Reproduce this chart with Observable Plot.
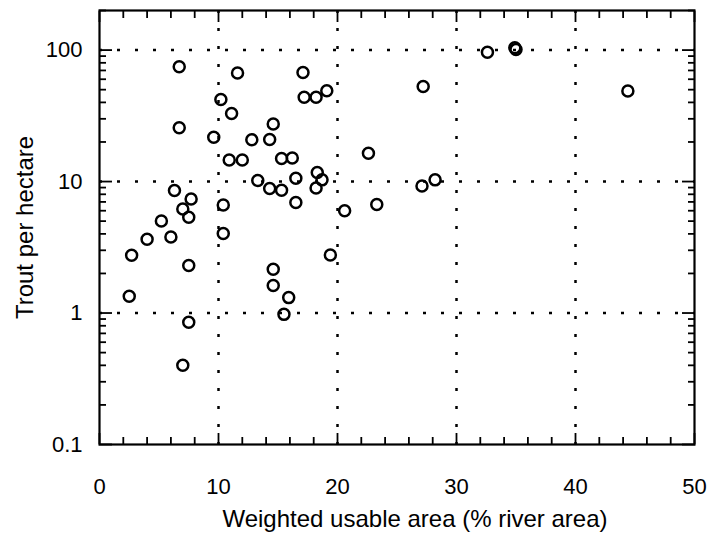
<!DOCTYPE html>
<html>
<head>
<meta charset="utf-8">
<script src="https://cdn.jsdelivr.net/npm/d3@7"></script>
<script src="https://cdn.jsdelivr.net/npm/@observablehq/plot@0.6"></script>
<style>
  html, body { margin: 0; padding: 0; background: #fff; }
  #chart svg { display: block; }
</style>
</head>
<body>
<div id="chart"></div>
<script>
// Weighted usable area (% river area)
const area = [6.7, 11.6, 17.1, 27.2, 32.6, 34.9, 35.0, 44.4,
  10.2, 11.1, 17.2, 18.2, 19.1,
  6.7, 9.6, 12.8, 14.3, 14.6,
  10.9, 12.0, 15.3, 16.2, 22.6,
  13.3, 14.3, 15.3, 16.5, 16.5,
  18.3, 18.7, 18.2, 20.6, 23.3,
  27.1, 28.2,
  6.3, 7.7, 7.0, 7.5, 5.2,
  10.4, 10.4, 4.0, 6.0, 2.7,
  7.5, 19.4, 14.6, 14.6, 15.9,
  2.5, 15.5, 7.5, 7.0];
// Trout per hectare
const trout = [74.7, 67.0, 67.6, 52.9, 96.3, 104, 101, 48.9,
  42.1, 32.9, 43.8, 43.8, 49.1,
  25.7, 21.7, 20.8, 20.9, 27.4,
  14.6, 14.6, 15.0, 15.1, 16.4,
  10.2, 8.87, 8.58, 10.6, 6.93,
  11.7, 10.3, 8.92, 6.0, 6.69,
  9.25, 10.3,
  8.56, 7.38, 6.19, 5.36, 5.02,
  6.64, 4.03, 3.64, 3.78, 2.75,
  2.30, 2.76, 2.15, 1.62, 1.31,
  1.34, 0.977, 0.85, 0.40];

const xTicks = [0, 10, 20, 30, 40, 50];
const xMinorTicks = [2, 4, 6, 8, 12, 14, 16, 18, 22, 24, 26, 28, 32, 34, 36, 38, 42, 44, 46, 48];
const xGrid = [10, 20, 30, 40];
const yTicks = [0.1, 1, 10, 100];
const yMinorTicks = [0.2, 0.3, 0.4, 0.5, 0.6, 0.7, 0.8, 0.9,
  2, 3, 4, 5, 6, 7, 8, 9,
  20, 30, 40, 50, 60, 70, 80, 90, 200];
const yGrid = [1, 10, 100];
const xTitle = "Weighted usable area (% river area)";
const yTitle = "Trout per hectare";

const data = area.map((x, i) => ({x, y: trout[i]}));

const dotted = {stroke: "black", strokeWidth: 2.5, strokeDasharray: "3,15"};
const tickStyle = {stroke: "black", strokeWidth: 1.8, label: null, fill: "none"};

const chart = Plot.plot({
  width: 707,
  height: 534,
  marginLeft: 99,
  marginRight: 13,
  marginTop: 10,
  marginBottom: 90,
  style: {fontFamily: "'Liberation Sans', Arial, Helvetica, sans-serif", fontSize: "22px", background: "white", color: "black"},
  x: {domain: [0, 50], label: null},
  y: {type: "log", domain: [0.1, 200], label: null},
  marks: [
    Plot.ruleX(xGrid, dotted),
    Plot.ruleY(yGrid, dotted),
    // inward ticks, all four sides
    Plot.axisX(xMinorTicks, {anchor: "bottom", tickSize: -7, ...tickStyle}),
    Plot.axisX(xMinorTicks, {anchor: "top", tickSize: -7, ...tickStyle}),
    Plot.axisX(xTicks, {anchor: "bottom", tickSize: -11, ...tickStyle}),
    Plot.axisX(xTicks, {anchor: "top", tickSize: -11, ...tickStyle}),
    Plot.axisY(yMinorTicks, {anchor: "left", tickSize: -7, ...tickStyle}),
    Plot.axisY(yMinorTicks, {anchor: "right", tickSize: -7, ...tickStyle}),
    Plot.axisY(yTicks, {anchor: "left", tickSize: -13, ...tickStyle}),
    Plot.axisY(yTicks, {anchor: "right", tickSize: -13, ...tickStyle}),
    // tick labels
    Plot.axisX(xTicks, {anchor: "bottom", tickSize: 0, tickPadding: 34, label: null, tickFormat: d => `${d}`}),
    Plot.axisY(yTicks, {anchor: "left", tickSize: 0, tickPadding: 17, label: null, tickFormat: d => `${d}`}),
    Plot.frame({stroke: "black", strokeWidth: 2.2}),
    Plot.dot(data, {x: "x", y: "y", r: 5.5, stroke: "black", strokeWidth: 2.5, fill: "none"}),
    Plot.text([xTitle], {frameAnchor: "bottom", dy: 75, dx: 18, textAnchor: "middle", lineAnchor: "middle", text: d => d, fontSize: 24}),
    Plot.text([yTitle], {frameAnchor: "left", dx: -74, rotate: -90, textAnchor: "middle", lineAnchor: "middle", text: d => d, fontSize: 24})
  ]
});

document.getElementById("chart").append(chart);
</script>
</body>
</html>
